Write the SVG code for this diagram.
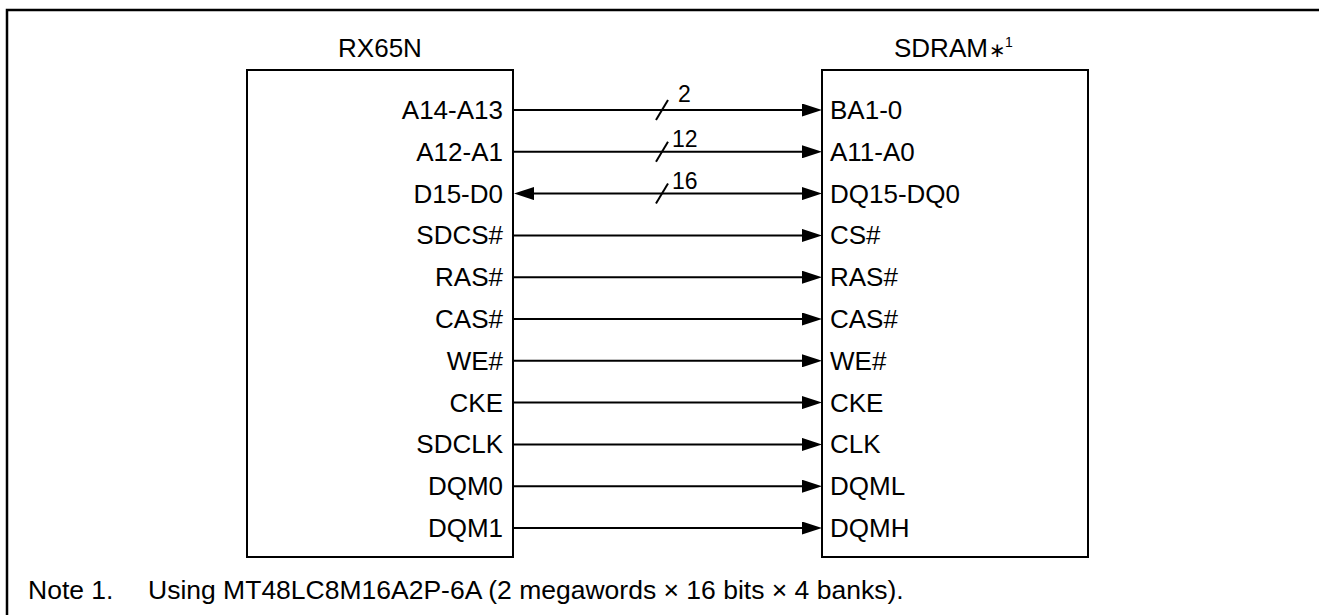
<svg xmlns="http://www.w3.org/2000/svg" width="1319" height="615" viewBox="0 0 1319 615">
  <style>
    text { font-family: "Liberation Sans", Arial, sans-serif; font-size: 26px; fill: #000; }
    .lbl-l { text-anchor: end; }
    .bus { font-size: 23px; }
    .note { font-size: 26.5px; }
    .box { fill: #fff; stroke: #000; stroke-width: 2; }
    .wire { stroke: #000; stroke-width: 2; fill: none; }
    .frame { stroke: #000; stroke-width: 2.5; fill: none; }
  </style>
  <defs>
    <marker id="arrow" markerUnits="userSpaceOnUse" markerWidth="20" markerHeight="13" refX="0" refY="6.5" orient="auto-start-reverse">
      <path d="M0,0 L20,6.5 L0,13 Z" fill="#000"/>
    </marker>
  </defs>
  <rect width="1319" height="615" fill="#fff"/>
  <path class="frame" d="M7,615 V10 H1319"/>

  <g id="rx65n">
    <text x="380" y="57" text-anchor="middle">RX65N</text>
    <rect class="box" x="247" y="70" width="266" height="487"/>
    <text class="lbl-l" x="503" y="119">A14-A13</text>
    <text class="lbl-l" x="503" y="160.8">A12-A1</text>
    <text class="lbl-l" x="503" y="202.6">D15-D0</text>
    <text class="lbl-l" x="503" y="244.4">SDCS#</text>
    <text class="lbl-l" x="503" y="286.2">RAS#</text>
    <text class="lbl-l" x="503" y="328">CAS#</text>
    <text class="lbl-l" x="503" y="369.8">WE#</text>
    <text class="lbl-l" x="503" y="411.6">CKE</text>
    <text class="lbl-l" x="503" y="453.4">SDCLK</text>
    <text class="lbl-l" x="503" y="495.2">DQM0</text>
    <text class="lbl-l" x="503" y="537">DQM1</text>
  </g>

  <g id="sdram">
    <text x="894" y="57">SDRAM</text>
    <text x="989" y="57" style="font-family: 'DejaVu Sans', sans-serif; font-size: 20px;">∗</text>
    <text x="1005" y="46.5" style="font-size: 14px;">1</text>
    <rect class="box" x="822" y="70" width="266" height="487"/>
    <text x="830" y="119">BA1-0</text>
    <text x="830" y="160.8">A11-A0</text>
    <text x="830" y="202.6">DQ15-DQ0</text>
    <text x="830" y="244.4">CS#</text>
    <text x="830" y="286.2">RAS#</text>
    <text x="830" y="328">CAS#</text>
    <text x="830" y="369.8">WE#</text>
    <text x="830" y="411.6">CKE</text>
    <text x="830" y="453.4">CLK</text>
    <text x="830" y="495.2">DQML</text>
    <text x="830" y="537">DQMH</text>
  </g>

  <g id="connectors">
    <line class="wire" x1="514" y1="110" x2="802" y2="110" marker-end="url(#arrow)"/>
    <line class="wire" x1="514" y1="151.8" x2="802" y2="151.8" marker-end="url(#arrow)"/>
    <line class="wire" x1="534" y1="193.6" x2="802" y2="193.6" marker-start="url(#arrow)" marker-end="url(#arrow)"/>
    <line class="wire" x1="514" y1="235.4" x2="802" y2="235.4" marker-end="url(#arrow)"/>
    <line class="wire" x1="514" y1="277.2" x2="802" y2="277.2" marker-end="url(#arrow)"/>
    <line class="wire" x1="514" y1="319" x2="802" y2="319" marker-end="url(#arrow)"/>
    <line class="wire" x1="514" y1="360.8" x2="802" y2="360.8" marker-end="url(#arrow)"/>
    <line class="wire" x1="514" y1="402.6" x2="802" y2="402.6" marker-end="url(#arrow)"/>
    <line class="wire" x1="514" y1="444.4" x2="802" y2="444.4" marker-end="url(#arrow)"/>
    <line class="wire" x1="514" y1="486.2" x2="802" y2="486.2" marker-end="url(#arrow)"/>
    <line class="wire" x1="514" y1="528" x2="802" y2="528" marker-end="url(#arrow)"/>
    <line class="wire" x1="656" y1="120" x2="668" y2="100"/>
    <line class="wire" x1="656" y1="161.8" x2="668" y2="141.8"/>
    <line class="wire" x1="656" y1="203.6" x2="668" y2="183.6"/>
    <text class="bus" x="678" y="102">2</text>
    <text class="bus" x="672" y="147">12</text>
    <text class="bus" x="672" y="189">16</text>
  </g>

  <g id="note">
    <text class="note" x="28" y="599">Note 1.</text>
    <text class="note" x="148" y="599">Using MT48LC8M16A2P-6A (2 megawords × 16 bits × 4 banks).</text>
  </g>
</svg>
